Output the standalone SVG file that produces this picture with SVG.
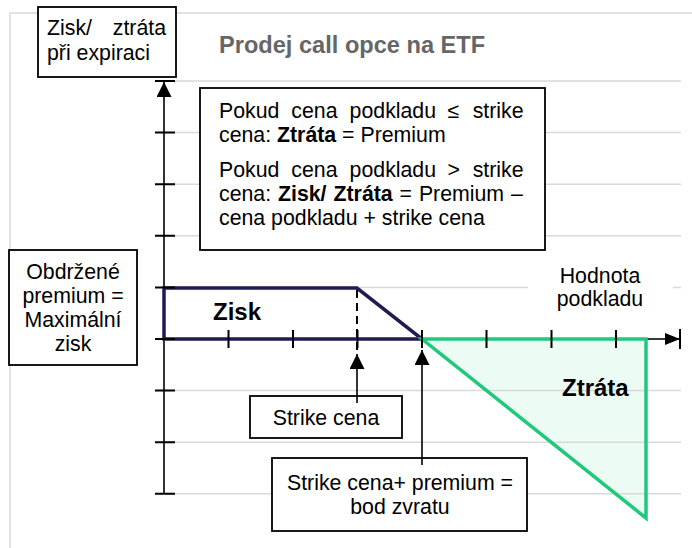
<svg xmlns="http://www.w3.org/2000/svg" width="692" height="548" viewBox="0 0 692 548">
<style>
text{font-family:"Liberation Sans",Arial,sans-serif;font-size:21.3px;fill:#000}
.b{font-weight:bold}
.big{font-weight:bold;font-size:24px}
.grid{stroke:#d9d9d9;stroke-width:1.5;fill:none}
.ax{stroke:#000;stroke-width:1.6;fill:none}
.tick{stroke:#000;stroke-width:2;fill:none}
.box{fill:#fff;stroke:#000;stroke-width:1.8}
.mid{text-anchor:middle}
.end{text-anchor:end}
</style>
<defs>
<marker id="ah" viewBox="0 0 15 15" refX="15" refY="7.5" markerWidth="15" markerHeight="15" markerUnits="userSpaceOnUse" orient="auto">
<path d="M0,0 L15,7.5 L0,15 z" fill="#000"/>
</marker>
<marker id="ahx" viewBox="0 0 15 12" refX="15" refY="6" markerWidth="15" markerHeight="12" markerUnits="userSpaceOnUse" orient="auto">
<path d="M0,0 L15,6 L0,12 z" fill="#000"/>
</marker>
</defs>
<rect width="692" height="548" fill="#fff"/>
<g id="frame">
<path d="M10,560 L10,13 L700,13" class="grid"/>
</g>
<g id="loss-fill">
<polygon points="422,339 646,339 646,518" fill="#1ec97c" fill-opacity="0.08"/>
</g>
<g id="grid">
<path class="grid" d="M164,81H681 M164,132.6H681 M164,184.2H681 M164,235.8H681 M164,287.4H681 M164,339H681 M164,390.6H681 M164,442.2H681 M164,493.8H681"/>
</g>
<g id="value-label">
<rect x="528" y="264" width="145" height="50" fill="#fff"/>
<text class="mid" x="600" y="283">Hodnota</text>
<text class="mid" x="600" y="306">podkladu</text>
</g>
<g id="axes">
<line class="ax" x1="164" y1="494" x2="164" y2="82" marker-end="url(#ah)"/>
<line class="ax" x1="164" y1="339" x2="680" y2="339" marker-end="url(#ahx)"/>
<line class="tick" x1="680" y1="329" x2="680" y2="349"/>
</g>
<g id="profit">
<polygon points="164,288 357,288 422,339 164,339" fill="none" stroke="#201c52" stroke-width="3.5" stroke-linejoin="miter"/>
<line x1="357" y1="290" x2="357" y2="350" stroke="#000" stroke-width="2" stroke-dasharray="8,5"/>
<text class="big" x="213" y="320">Zisk</text>
</g>
<g id="loss">
<polygon points="422,339 646,339 646,518" fill="none" stroke="#1ec97c" stroke-width="3.5" stroke-linejoin="miter"/>
<text class="big" x="562" y="396">Ztráta</text>
</g>
<g id="ticks">
<path class="tick" d="M155,81H175 M155,132.6H175 M155,184.2H175 M155,235.8H175 M155,287.4H175 M155,339H175 M155,390.6H175 M155,442.2H175 M155,493.8H175"/>
<path class="tick" d="M228.5,330V348 M293,330V348 M357.5,330V348 M422,330V348 M486.5,330V348 M551.5,330V348 M616,330V348"/>
</g>
<g id="axis-label">
<rect class="box" x="38" y="7" width="138" height="70"/>
<text x="47" y="35">Zisk/</text>
<text class="end" x="166" y="35">ztráta</text>
<text x="47" y="60">při expiraci</text>
</g>
<g id="title">
<text class="b" x="219" y="53" style="font-size:23.6px;fill:#666">Prodej call opce na ETF</text>
</g>
<g id="info">
<rect class="box" x="200" y="88" width="345" height="162"/>
<text y="118"><tspan x="219">Pokud</tspan><tspan x="291.3">cena</tspan><tspan x="349.6">podkladu</tspan><tspan x="447.6">≤</tspan><tspan x="472.7">strike</tspan></text>
<text x="219" y="142">cena: <tspan class="b">Ztráta</tspan> = Premium</text>
<text y="177"><tspan x="219">Pokud</tspan><tspan x="291.3">cena</tspan><tspan x="349.6">podkladu</tspan><tspan x="447.6">&gt;</tspan><tspan x="472.7">strike</tspan></text>
<text y="201"><tspan x="219">cena:</tspan><tspan class="b" x="278">Zisk/</tspan><tspan class="b" x="333.5">Ztráta</tspan><tspan x="399.6">=</tspan><tspan x="418.9">Premium</tspan><tspan x="511.1">–</tspan></text>
<text x="219" y="225">cena podkladu + strike cena</text>
</g>
<g id="premium-label">
<rect class="box" x="9" y="250" width="128" height="115"/>
<text class="mid" x="73" y="279">Obdržené</text>
<text class="mid" x="73" y="303">premium =</text>
<text class="mid" x="73" y="327">Maximální</text>
<text class="mid" x="73" y="351">zisk</text>
</g>
<g id="strike">
<rect class="box" x="250" y="396" width="152" height="42"/>
<text class="mid" x="326" y="425">Strike cena</text>
</g>
<g id="breakeven">
<rect class="box" x="272" y="458" width="255" height="73"/>
<text class="mid" x="400" y="490">Strike cena+ premium =</text>
<text class="mid" x="400" y="514">bod zvratu</text>
</g>
<g id="connectors">
<line class="ax" x1="357" y1="403" x2="357" y2="354" marker-end="url(#ah)"/>
<line class="ax" x1="422" y1="465" x2="422" y2="350" marker-end="url(#ah)"/>
</g>
</svg>
